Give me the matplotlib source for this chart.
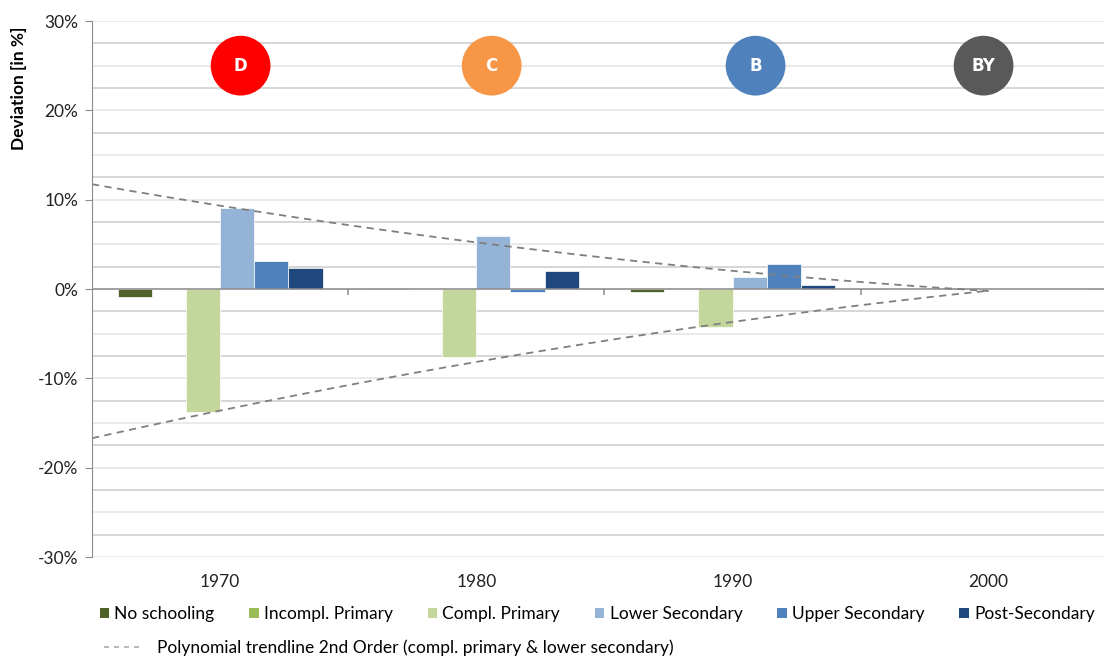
import numpy as np
import matplotlib
matplotlib.use('Agg')
import matplotlib.pyplot as plt
from matplotlib.patches import Patch
from matplotlib.lines import Line2D

plt.rcParams['font.family'] = ['Lato', 'DejaVu Sans']

# data (deviation in %)
categories = ['1970', '1980', '1990', '2000']
series_names = ['No schooling', 'Incompl. Primary', 'Compl. Primary',
                'Lower Secondary', 'Upper Secondary', 'Post-Secondary']
no_schooling = [-0.9, 0.15, -0.35, 0.0]
incompl_primary = [0.0, 0.0, 0.0, 0.0]
compl_primary = [-13.8, -7.6, -4.25, 0.0]
lower_secondary = [9.1, 5.9, 1.35, 0.0]
upper_secondary = [3.1, -0.35, 2.8, 0.0]
post_secondary = [2.35, 2.05, 0.5, 0.0]
series = [no_schooling, incompl_primary, compl_primary,
          lower_secondary, upper_secondary, post_secondary]
colors = ['#4f6228', '#9bbb59', '#c3d69b', '#95b3d7', '#4f81bd', '#1f497d']

# grade badges
badge_labels = ['D', 'C', 'B', 'BY']
badge_colors = ['#ff0000', '#f79646', '#4f81bd', '#595959']
badge_x = [0.08, 1.06, 2.09, 2.98]

fig = plt.figure(figsize=(11.04, 6.59), dpi=100)
ax = fig.add_axes([92 / 1104, 1 - 557 / 659, 1 - 92 / 1104, (557 - 21) / 659])

x = np.arange(len(categories))
w = 0.8 / 6
for i, (vals, c) in enumerate(zip(series, colors)):
    ax.bar(x - 0.4 + w * (i + 0.5), vals, width=w, color=c,
           edgecolor='white', linewidth=0.5, zorder=3)

# gridlines every 2.5%
for k, yv in enumerate(np.arange(-30, 30.1, 2.5)):
    ax.axhline(yv, color='#cfcfcf' if k % 2 else '#e6e6e6', lw=1.2, zorder=1)
ax.axhline(0, color='#8c8c8c', lw=1.1, zorder=4)
ax.vlines([0.5, 1.5, 2.5], -0.7, 0, color='#8c8c8c', lw=1.1, zorder=4)

# 2nd order polynomial trendlines
xt = np.linspace(-0.5, 3, 200)
for vals in (compl_primary, lower_secondary):
    p = np.polyfit(x, vals, 2)
    ax.plot(xt, np.polyval(p, xt), color='#7f7f7f', lw=1.3,
            dashes=(4, 3), zorder=5)

ax.scatter(badge_x, [25] * 4, s=1850, c=badge_colors, zorder=6, linewidths=0)
for bx, lab in zip(badge_x, badge_labels):
    ax.text(bx, 25, lab, color='white', fontsize=12, fontweight='bold',
            ha='center', va='center', zorder=7, family='DejaVu Sans')

ax.set_xlim(-0.5, 3.45)
ax.set_ylim(-30, 30)
ax.set_yticks(np.arange(-30, 31, 10))
ax.set_yticklabels([f'{v}%' for v in range(-30, 31, 10)], fontsize=12.5, color='#222222')
ax.set_xticks(x)
ax.set_xticklabels(categories, fontsize=12.5, color='#222222')
ax.tick_params(axis='x', length=0, pad=12)
ax.tick_params(axis='y', length=5, color='#8c8c8c', pad=5)
for s in ['top', 'right', 'bottom']:
    ax.spines[s].set_visible(False)
ax.spines['left'].set_color('#8c8c8c')

fig.text(19 / 1104, 1 - 88 / 659, 'Deviation [in %]', rotation=90,
         ha='center', va='center', fontsize=12.5, fontweight='bold')

handles = [Patch(facecolor=c, edgecolor='none') for c in colors]
fig.legend(handles, series_names, ncol=6, loc='center left',
           bbox_to_anchor=(84 / 1104, 1 - 614 / 659), frameon=False,
           fontsize=12.5, handlelength=0.55, handleheight=0.55,
           handletextpad=0.3, columnspacing=2.0)
fig.legend([Line2D([0], [0], color='#aaaaaa', lw=1.2, dashes=(3, 3))],
           ['Polynomial trendline 2nd Order (compl. primary & lower secondary)'],
           loc='center left', bbox_to_anchor=(88 / 1104, 1 - 648 / 659),
           frameon=False, fontsize=12.5, handlelength=2.3, handletextpad=0.8)

fig.savefig('out.png', dpi=100)
